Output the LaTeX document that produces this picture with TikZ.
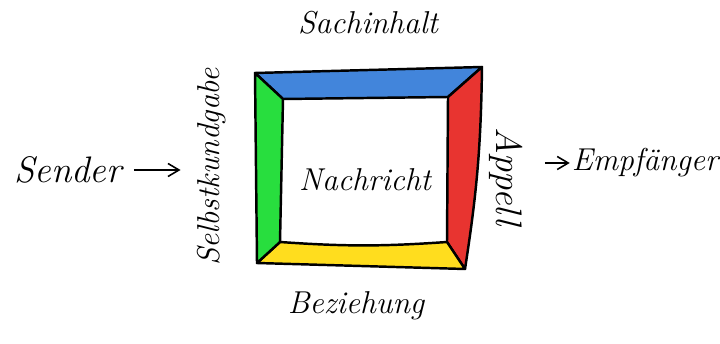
\documentclass[tikz,border=0pt]{standalone}
\usepackage{xcolor}
\usepackage{tikz}
\usetikzlibrary{arrows.meta,positioning}

\definecolor{sideblue}{RGB}{66,133,219}
\definecolor{sidered}{RGB}{232,52,48}
\definecolor{sideyellow}{RGB}{255,221,30}
\definecolor{sidegreen}{RGB}{40,222,62}

\begin{document}
\begin{tikzpicture}[
  x=0.02cm, y=-0.02cm,
  hand/.style = {font=\fontsize{18}{22}\selectfont\itshape, inner sep=1pt},
  side/.style = {draw=black, line width=1.4pt, line join=round},
  arr/.style  = {-{Straight Barb[length=2.2mm,width=2.6mm]}, line width=0.9pt}
]
\useasboundingbox (0,0) rectangle (720,344);

%% Frame corners (outer / inner)
\coordinate (otl) at (255,73);
\coordinate (otr) at (482,67);
\coordinate (obr) at (465,269);
\coordinate (obl) at (257,263);
\coordinate (itl) at (283,99);
\coordinate (itr) at (448,97);
\coordinate (ibr) at (447,242);
\coordinate (ibl) at (280,242);

%% The four sides
\filldraw[side, fill=sideblue]   (otl) -- (otr) -- (itr) -- (itl) -- cycle;
\filldraw[side, fill=sidered]    (otr) to[bend left=4] (obr) -- (ibr) -- (itr) -- cycle;
\filldraw[side, fill=sideyellow] (obl) -- (obr) -- (ibr) to[bend left=4] (ibl) -- cycle;
\filldraw[side, fill=sidegreen]  (otl) -- (itl) -- (ibl) -- (obl) -- cycle;

%% Labels
\node[hand] (sachinhalt) at (368,23)  {Sachinhalt};
\node[hand] (nachricht)  at (365,180) {Nachricht};
\node[hand] (beziehung)  at (356,306) {Beziehung};
\node[hand, rotate=90]  (selbst) at (212,167) {Selbstkundgabe};
\node[hand, rotate=-90, font=\fontsize{21}{24}\selectfont\itshape] (appell) at (506,177) {Appell};
\node[hand, font=\fontsize{21}{24}\selectfont\itshape] (sender) at (68,170) {Sender};
\node[hand] (empf) at (645,163) {Empfänger};

%% Arrows
\draw[arr, shorten <=2mm, shorten >=3mm] (sender.east) -- (sender.east -| selbst.north);
\draw[arr, shorten <=4mm] (appell.north |- empf.west) -- (empf.west);
\end{tikzpicture}
\end{document}
